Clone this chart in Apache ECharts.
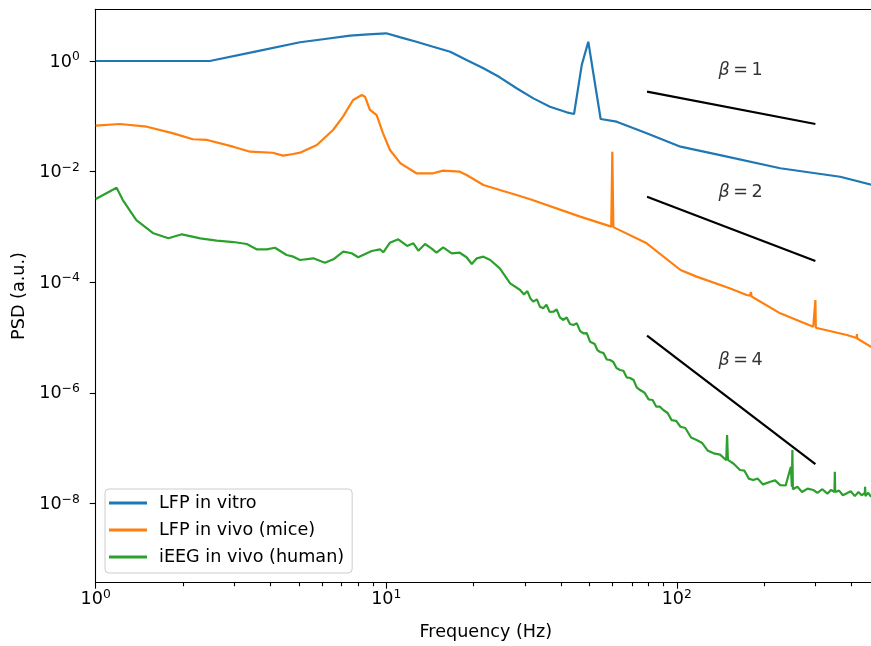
<!DOCTYPE html>
<html>
<head>
<meta charset="utf-8">
<script src="https://cdn.jsdelivr.net/npm/echarts@6/dist/echarts.min.js"></script>
<style>
html, body { margin: 0; padding: 0; background: #fff; }
#chart { width: 871px; height: 646px; }
</style>
</head>
<body>
<div id="chart"></div>
<script>
var FONT = 'DejaVu Sans';
var FS = 17.6;

// axis ranges (log scale)
var xMin = 1, xMax = 485;
var yMin = 3.67e-10, yMax = 8.61;
var xMajorTicks = [1, 10, 100];
var xMinorTicks = [2, 3, 4, 5, 6, 7, 8, 9, 20, 30, 40, 50, 60, 70, 80, 90, 200, 300, 400];
var yMajorTicks = [1e-8, 1e-6, 1e-4, 1e-2, 1];

// LFP in vitro
var vitroFreq = [1, 2.47, 3.54, 5.05, 6.15, 7.51, 8.66, 10, 11.2, 12.7, 14.5, 16.6, 18.9, 21.6, 24.6, 28.1, 32.1, 36.6, 41.8, 44.3, 47.1, 49.6, 54.7, 62.1, 78.8, 103, 141, 227, 365, 485];
var vitroPsd = [1.0, 1.0, 1.48, 2.18, 2.50, 2.87, 3.04, 3.17, 2.68, 2.23, 1.81, 1.47, 1.04, 0.738, 0.507, 0.321, 0.211, 0.149, 0.118, 0.110, 0.85, 2.23, 0.0893, 0.0798, 0.0492, 0.0282, 0.0199, 0.0115, 0.00807, 0.0055];

// LFP in vivo (mice)
var miceFreq = [1, 1.21, 1.50, 1.85, 2.16, 2.42, 2.97, 3.40, 4.07, 4.41, 4.78, 5.05, 5.77, 6.56, 7.10, 7.69, 8.24, 8.45, 8.79, 9.27, 9.75, 10.3, 11.2, 12.7, 14.5, 15.7, 17.9, 18.9, 21.6, 24.6, 28.1, 31.3, 46.5, 59.5, 60, 60.5, 78.8, 103, 117, 152, 174, 179, 180, 181, 227, 295, 299, 300, 301, 385, 416, 417, 418, 466, 485];
var micePsd = [0.0676, 0.0726, 0.0648, 0.0492, 0.0384, 0.0373, 0.0282, 0.0229, 0.0219, 0.0194, 0.0208, 0.0220, 0.0303, 0.0565, 0.0984, 0.197, 0.243, 0.226, 0.130, 0.105, 0.0492, 0.0246, 0.0141, 0.00931, 0.00931, 0.0104, 0.00995, 0.00867, 0.00572, 0.00464, 0.00377, 0.00315, 0.00153, 0.00101, 0.0229, 0.00099, 5.05e-4, 1.66e-4, 1.26e-4, 7.74e-5, 5.86e-5, 5.7e-5, 6.64e-5, 5.5e-5, 2.73e-5, 1.56e-5, 1.5e-5, 4.76e-5, 1.5e-5, 1.11e-5, 9.8e-6, 1.15e-5, 9.6e-6, 6.8e-6, 6.4e-6];

// iEEG in vivo (human)
var humanFreq = [1, 1.18, 1.24, 1.38, 1.58, 1.78, 1.98, 2.29, 2.61, 2.98, 3.31, 3.58, 3.88, 4.14, 4.54, 4.79, 5.05, 5.61, 6.15, 6.58, 7.11, 7.60, 8.01, 8.91, 9.52, 9.77, 10.3, 11.0, 11.8, 12.4, 12.9, 13.6, 14.3, 14.9, 15.7, 16.8, 17.9, 18.9, 19.7, 20.5, 21.6, 22.8, 24.6, 26.7,
  28.9, 29.8, 30.6, 31.4, 32.1, 33.0, 33.8, 34.7, 35.6, 36.5, 37.6, 38.6, 39.6, 40.7, 41.8, 42.9, 44.1, 45.3, 46.5, 47.7, 49.0, 50.3, 52.2, 53.3, 54.5, 56.0, 57.4, 58.9, 60.5, 62.0, 63.8, 65.5, 67.2, 69.1, 71.0, 72.8, 74.8, 77.5, 80.0, 82.6, 85.0, 87.5, 89.9, 93.0, 96.0, 99.5,
  103, 107, 112, 117, 122, 128, 134, 141, 148, 149, 150, 157, 165, 171, 177, 183, 190, 198, 210, 218, 227, 237, 247, 249, 250, 251, 260, 270, 282, 295, 305, 317, 330, 340, 349, 350, 351, 362, 373, 385, 397, 410, 422, 433, 444, 445, 446, 456, 466, 476, 485];
var humanPsd = [3.19e-3, 5.11e-3, 3.06e-3, 1.33e-3, 7.65e-4, 6.21e-4, 7.34e-4, 6.21e-4, 5.62e-4, 5.32e-4, 4.90e-4, 3.93e-4, 3.93e-4, 4.20e-4, 3.10e-4, 2.89e-4, 2.52e-4, 2.70e-4, 2.25e-4, 2.59e-4, 3.56e-4, 3.33e-4, 2.82e-4, 3.66e-4, 3.93e-4, 3.47e-4, 5.18e-4, 5.96e-4, 4.51e-4, 5.05e-4, 3.71e-4, 4.90e-4, 4.09e-4, 3.41e-4, 4.27e-4, 3.33e-4, 3.41e-4, 2.82e-4, 2.13e-4, 2.70e-4, 2.89e-4, 2.52e-4, 1.78e-4, 9.53e-5,
  7.21e-5, 6.0e-5, 6.9e-5, 5.0e-5, 4.43e-5, 4.9e-5, 3.6e-5, 3.37e-5, 3.9e-5, 2.9e-5, 2.92e-5, 3.2e-5, 2.3e-5, 2.07e-5, 2.3e-5, 1.75e-5, 1.68e-5, 1.8e-5, 1.3e-5, 1.19e-5, 1.2e-5, 8.38e-6, 7.6e-6, 5.9e-6, 5.46e-6, 5.2e-6, 4.0e-6, 3.91e-6, 3.6e-6, 2.8e-6, 2.58e-6, 2.5e-6, 1.9e-6, 1.85e-6, 1.7e-6, 1.25e-6, 1.12e-6, 1.0e-6, 7.6e-7, 7.4e-7, 5.6e-7, 5.6e-7, 4.88e-7, 4.3e-7, 3.2e-7, 3.1e-7,
  2.43e-7, 2.3e-7, 1.55e-7, 1.40e-7, 1.25e-7, 8.9e-8, 8.03e-8, 7.6e-8, 6.0e-8, 1.72e-7, 6.1e-8, 5.2e-8, 4.01e-8, 3.9e-8, 2.8e-8, 2.64e-8, 2.8e-8, 2.2e-8, 2.46e-8, 2.6e-8, 2.14e-8, 2.1e-8, 4.6e-8, 2.0e-8, 9.2e-8, 1.8e-8, 2.0e-8, 1.6e-8, 1.85e-8, 1.74e-8, 1.55e-8, 1.8e-8, 1.5e-8, 1.75e-8, 1.6e-8, 3.73e-8, 1.6e-8, 1.7e-8, 1.4e-8, 1.52e-8, 1.65e-8, 1.35e-8, 1.6e-8, 1.4e-8, 1.55e-8, 2.0e-8, 1.35e-8, 1.55e-8, 1.32e-8, 1.5e-8, 1.3e-8];

// reference slopes
var slopeFreq = [79, 300];
var beta1Psd = [0.279, 0.0726];
var beta2Psd = [3.51e-3, 2.41e-4];
var beta4Psd = [1.08e-5, 5.14e-8];
var betaLabelFreq = [166, 166, 166];
var betaLabelPsd = [0.687, 4.27e-3, 3.9e-6];
var betaLabelText = ['1', '2', '4'];

var seriesNames = ['LFP in vitro', 'LFP in vivo (mice)', 'iEEG in vivo (human)'];
var seriesColors = ['#1f77b4', '#ff7f0e', '#2ca02c'];

function pairs(xs, ys) {
    return xs.map(function (x, i) { return [x, ys[i]]; });
}

// 10^n label with superscript
function powLabel(v) {
    var e = Math.round(Math.log10(v));
    return '{b|10}{s|' + (e < 0 ? '\u2212' + (-e) : e) + '}';
}
var powRich = {
    b: { fontFamily: FONT, fontSize: FS, color: '#000', lineHeight: 20, verticalAlign: 'bottom' },
    s: { fontFamily: FONT, fontSize: 12.3, color: '#000', lineHeight: 14, verticalAlign: 'top' }
};
var spine = { color: '#000', width: 1.1 };

var myChart = echarts.init(document.getElementById('chart'), null, { renderer: 'canvas' });
var option = {
    animation: false,
    backgroundColor: '#fff',
    grid: { left: 95.7, top: 9.3, right: -5, bottom: 63.3, containLabel: false, outerBoundsMode: 'none' },
    legend: {
        data: seriesNames,
        orient: 'vertical',
        left: 105, top: 489,
        padding: [4, 8, 6, 4],
        itemWidth: 38, itemHeight: 3, itemGap: 7,
        icon: 'rect',
        backgroundColor: 'rgba(255,255,255,0.8)',
        borderColor: '#cccccc', borderWidth: 1, borderRadius: 4,
        textStyle: { fontFamily: FONT, fontSize: FS, color: '#000', lineHeight: 20, padding: [0, 0, 0, 7] }
    },
    xAxis: [
        {
            type: 'log', logBase: 10, min: xMin, max: xMax, position: 'bottom',
            axisLine: { show: true, onZero: false, lineStyle: spine },
            axisTick: { show: true, customValues: xMajorTicks, length: 6, lineStyle: spine },
            axisLabel: { customValues: xMajorTicks, formatter: powLabel, rich: powRich, margin: 6 },
            splitLine: { show: false },
            name: 'Frequency (Hz)', nameLocation: 'middle', nameGap: 41,
            nameTextStyle: { fontFamily: FONT, fontSize: FS, color: '#000' }
        },
        {
            // minor ticks
            type: 'log', logBase: 10, min: xMin, max: xMax, position: 'bottom',
            axisLine: { show: false, onZero: false },
            axisTick: { show: true, customValues: xMinorTicks, length: 3.5, lineStyle: spine },
            axisLabel: { show: false },
            splitLine: { show: false }
        },
        {
            // top spine
            type: 'log', logBase: 10, min: xMin, max: xMax, position: 'top',
            axisLine: { show: true, onZero: false, lineStyle: spine },
            axisTick: { show: false }, axisLabel: { show: false }, splitLine: { show: false }
        }
    ],
    yAxis: [
        {
            type: 'log', logBase: 10, min: yMin, max: yMax, position: 'left',
            axisLine: { show: true, onZero: false, lineStyle: spine },
            axisTick: { show: true, customValues: yMajorTicks, length: 6, lineStyle: spine },
            axisLabel: { customValues: yMajorTicks, formatter: powLabel, rich: powRich, margin: 16 },
            splitLine: { show: false },
            name: 'PSD (a.u.)', nameLocation: 'middle', nameGap: 62,
            nameTextStyle: { fontFamily: FONT, fontSize: FS, color: '#000' }
        }
    ],
    series: [
        {
            name: seriesNames[0], type: 'line', data: pairs(vitroFreq, vitroPsd),
            showSymbol: false, symbol: 'none', color: seriesColors[0],
            lineStyle: { width: 2.2, color: seriesColors[0] }
        },
        {
            name: seriesNames[1], type: 'line', data: pairs(miceFreq, micePsd),
            showSymbol: false, symbol: 'none', color: seriesColors[1],
            lineStyle: { width: 2.2, color: seriesColors[1] }
        },
        {
            name: seriesNames[2], type: 'line', data: pairs(humanFreq, humanPsd),
            showSymbol: false, symbol: 'none', color: seriesColors[2],
            lineStyle: { width: 2.2, color: seriesColors[2] }
        },
        { name: 'beta1', type: 'line', data: pairs(slopeFreq, beta1Psd), symbol: 'none', lineStyle: { width: 2.2, color: '#000' } },
        { name: 'beta2', type: 'line', data: pairs(slopeFreq, beta2Psd), symbol: 'none', lineStyle: { width: 2.2, color: '#000' } },
        { name: 'beta4', type: 'line', data: pairs(slopeFreq, beta4Psd), symbol: 'none', lineStyle: { width: 2.2, color: '#000' } },
        {
            name: 'betaText', type: 'scatter', silent: true,
            data: pairs(betaLabelFreq, betaLabelPsd),
            symbolSize: 2, itemStyle: { color: 'rgba(0,0,0,0)' },
            label: {
                show: true, position: 'inside',
                formatter: function (p) { return '{i|\u03b2}{t|\u2009=\u2009' + betaLabelText[p.dataIndex] + '}'; },
                fontFamily: FONT, fontSize: FS, color: '#000', textBorderWidth: 0,
                rich: {
                    i: { fontFamily: FONT, fontSize: FS, fontStyle: 'italic', color: '#000' },
                    t: { fontFamily: FONT, fontSize: FS, color: '#000' }
                }
            },
            labelLayout: { hideOverlap: false }
        }
    ]
};
myChart.setOption(option);
</script>
</body>
</html>
